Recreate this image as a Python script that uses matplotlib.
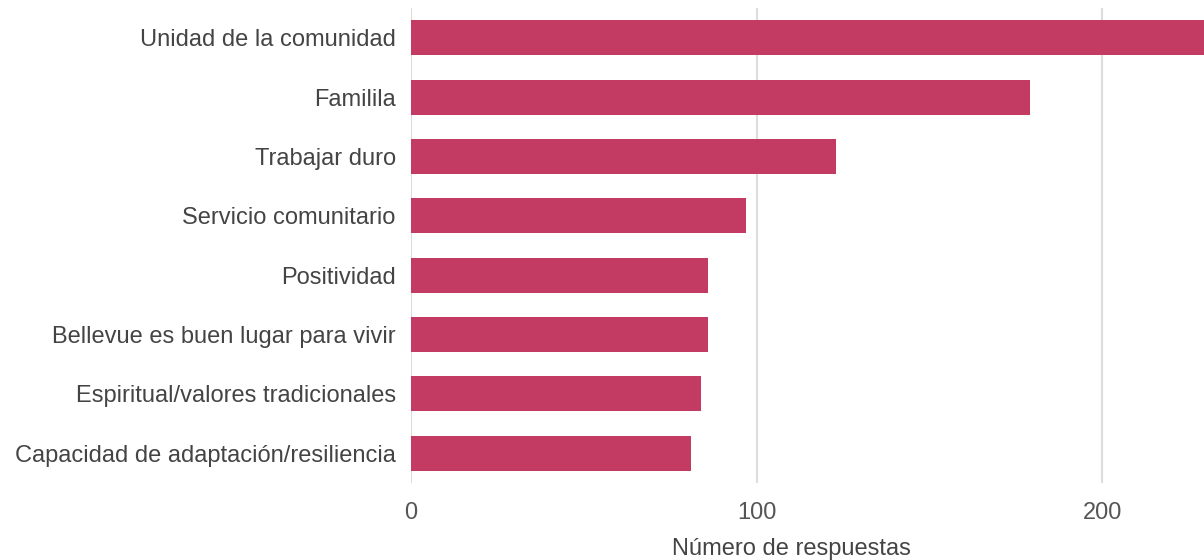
import matplotlib.pyplot as plt

categories = [
    "Unidad de la comunidad",
    "Familila",
    "Trabajar duro",
    "Servicio comunitario",
    "Positividad",
    "Bellevue es buen lugar para vivir",
    "Espiritual/valores tradicionales",
    "Capacidad de adaptación/resiliencia",
]
values = [236, 179, 123, 97, 86, 86, 84, 81]
ticks = [0, 100, 200]

plt.rcParams["font.family"] = ["Liberation Sans", "DejaVu Sans"]

fig = plt.figure(figsize=(12.04, 5.6), dpi=100)
left, right = 411 / 1204, 1.0
top, bottom = 1 - 8 / 560, 1 - 483 / 560
ax = fig.add_axes([left, bottom, right - left, top - bottom])

ypos = list(range(len(categories)))
ax.barh(ypos, values, height=0.59, color="#C33A62", zorder=2)
ax.set_ylim(len(categories) - 0.5, -0.5)
ax.set_xlim(0, 229.5)

ax.set_yticks(ypos)
ax.set_yticklabels(categories, fontsize=17, color="#444444")
ax.set_xticks(ticks)
ax.set_xticklabels([str(t) for t in ticks], fontsize=17, color="#555555")
ax.tick_params(axis="both", length=0)
ax.tick_params(axis="y", pad=11)
ax.tick_params(axis="x", pad=14)

ax.grid(axis="x", color="#dddddd", lw=1.5, zorder=0)
for s in ax.spines.values():
    s.set_visible(False)

ax.set_xlabel("Número de respuestas", fontsize=17, color="#444444", va="center")
ax.xaxis.set_label_coords((791 - 411) / (1204 - 411), -(549 - 483) / 475)

fig.savefig("out.png", dpi=100)
